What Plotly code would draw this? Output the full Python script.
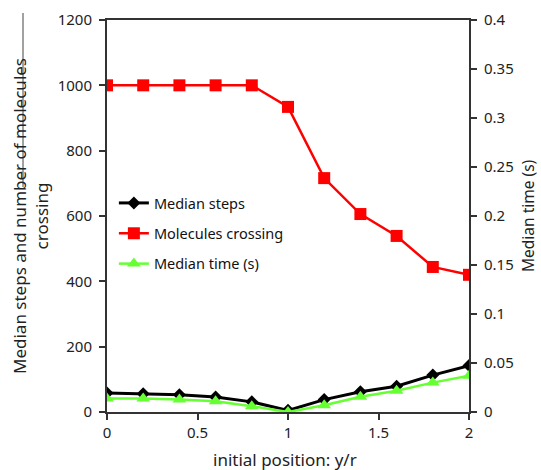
import plotly.graph_objects as go

x = [0, 0.2, 0.4, 0.6, 0.8, 1.0, 1.2, 1.4, 1.6, 1.8, 2.0]
median_steps = [58, 56, 53, 46, 31, 5, 38, 62, 79, 113, 142]
molecules_crossing = [1000, 1000, 1000, 1000, 1000, 934, 716, 606, 539, 444, 420]
median_time = [0.0138, 0.0138, 0.0128, 0.011, 0.0059, 0.0, 0.0069, 0.0155, 0.0217, 0.030, 0.0369]

font = "Noto Sans"
axcol = "#333333"
txtcol = "#222222"

fig = go.Figure()
fig.add_trace(go.Scatter(x=x, y=median_steps, name="Median steps", mode="lines+markers",
                         legendgroup="a",
                         line=dict(color="black", width=3),
                         marker=dict(symbol="diamond", size=10, color="black")))
fig.add_trace(go.Scatter(x=x, y=molecules_crossing, name="Molecules crossing", mode="lines+markers",
                         legendgroup="b",
                         line=dict(color="#ff0000", width=2.5),
                         marker=dict(symbol="square", size=12, color="#ff0000")))
fig.add_trace(go.Scatter(x=x, y=median_time, name="Median time (s)", mode="lines+markers",
                         legendgroup="c", yaxis="y2",
                         line=dict(color="#66ff33", width=2.5),
                         marker=dict(symbol="triangle-up", size=12, color="#66ff33")))

common = dict(showgrid=False, zeroline=False, showline=True, linecolor=axcol, linewidth=2,
              ticks="outside", ticklen=6, tickwidth=1.5, tickcolor=axcol,
              tickfont=dict(size=15, color=txtcol), automargin=False)

fig.update_layout(
    width=541, height=470,
    margin=dict(l=107, r=72, t=20, b=58, autoexpand=False),
    paper_bgcolor="white", plot_bgcolor="white",
    font=dict(family=font, size=15, color=txtcol),
    showlegend=True,
    legend=dict(x=0.019, y=0.574, xanchor="left", yanchor="top", bgcolor="rgba(0,0,0,0)",
                font=dict(size=14.5, color="#111"), traceorder="grouped",
                tracegroupgap=8.5, itemwidth=30),
    xaxis=dict(range=[0, 2], tickvals=[0, 0.5, 1, 1.5, 2],
               ticktext=["0", "0.5", "1", "1.5", "2"], mirror=True, **common),
    yaxis=dict(range=[0, 1200], dtick=200, ticklabelstandoff=4, **common),
    yaxis2=dict(range=[0, 0.4], tickvals=[0, 0.05, 0.1, 0.15, 0.2, 0.25, 0.3, 0.35, 0.4],
                ticktext=["0", "0.05", "0.1", "0.15", "0.2", "0.25", "0.3", "0.35", "0.4"],
                overlaying="y", side="right", ticklabelstandoff=4, **common),
    annotations=[
        dict(text="Median steps and number of molecules<br>crossing", textangle=-90,
             xref="paper", yref="paper", x=(30 - 107) / 362, y=0.5,
             xanchor="center", yanchor="middle", showarrow=False,
             font=dict(size=17, color=txtcol)),
        dict(text="initial position: y/r",
             xref="paper", yref="paper", x=(285 - 107) / 362, y=(412 - 460) / 392,
             xanchor="center", yanchor="middle", showarrow=False,
             font=dict(size=17, color=txtcol)),
        dict(text="Median time (s)", textangle=-90,
             xref="paper", yref="paper", x=(528 - 107) / 362, y=0.5,
             xanchor="center", yanchor="middle", showarrow=False,
             font=dict(size=15.5, color=txtcol)),
    ],
    shapes=[dict(type="line", xref="paper", yref="paper",
                 x0=(23 - 107) / 362, x1=(23 - 107) / 362,
                 y0=(412 - 13) / 392, y1=(412 - 187) / 392,
                 line=dict(color="#444", width=1))],
)

fig.write_html("out.html", config={"displayModeBar": False},
               post_script="document.body.style.margin='0';document.body.style.overflow='hidden';")
